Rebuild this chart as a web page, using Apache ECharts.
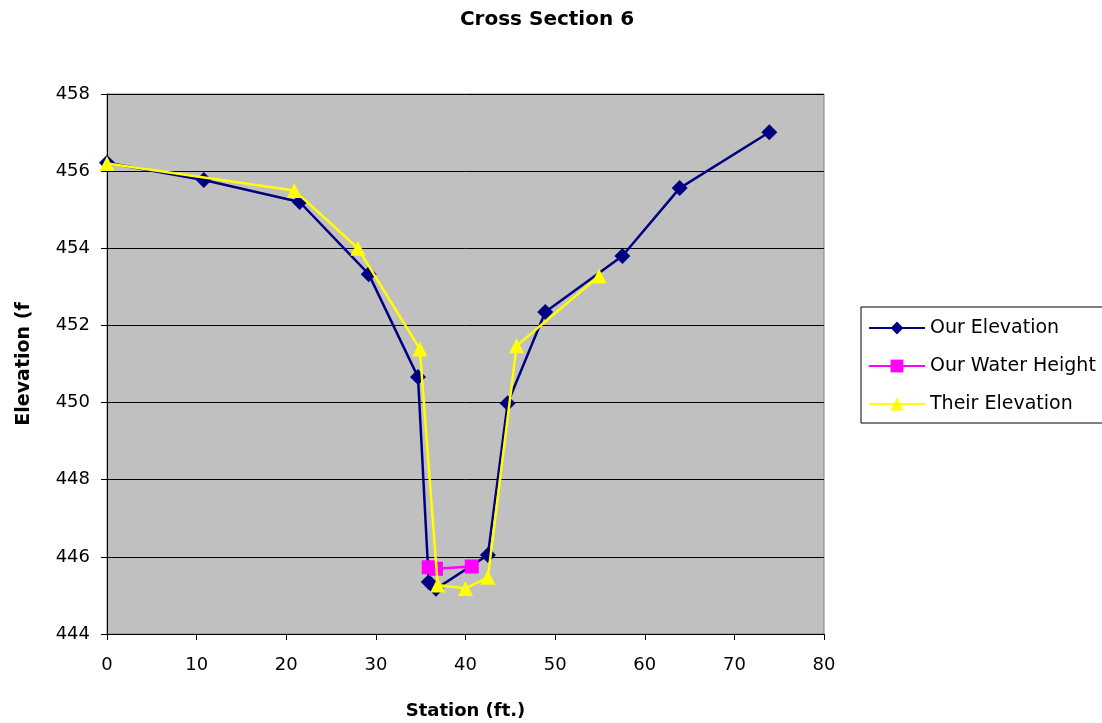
<!DOCTYPE html>
<html><head><meta charset="utf-8">
<script src="https://cdn.jsdelivr.net/npm/echarts@6/dist/echarts.min.js"></script>
<style>html,body{margin:0;padding:0;background:#fff}#c{width:1102px;height:723px}</style>
</head><body><div id="c"></div>
<script>
const ourElevation = [[0,456.22],[10.8,455.77],[21.5,455.2],[29.2,453.33],[34.7,450.66],[35.9,445.35],[36.7,445.17],[42.5,446.05],[44.7,449.98],[48.9,452.35],[57.5,453.8],[63.9,455.56],[73.9,457.01]];
const ourWaterHeight = [[35.9,445.73],[36.7,445.69],[40.7,445.75]];
const theirElevation = [[0,456.2],[20.9,455.5],[28.0,454.0],[34.9,451.39],[36.9,445.27],[40.0,445.18],[42.5,445.47],[45.7,451.47],[54.9,453.28]];
const seriesNames = ['Our Elevation','Our Water Height','Their Elevation'];
const xTicks = {min:0,max:80,interval:10};
const yTicks = {min:444,max:458,interval:2};

const chart = echarts.init(document.getElementById('c'), null, {renderer:'canvas'});
const font = 'DejaVu Sans, sans-serif';
chart.setOption({
  animation:false,
  textStyle:{fontFamily:font,color:'#000'},
  title:{text:'Cross Section 6',left:542,top:5,textAlign:'center',
    textStyle:{fontFamily:font,fontSize:20,fontWeight:'bold',color:'#000'}},
  grid:{left:107,right:278,top:94,bottom:89,outerBoundsMode:'none',containLabel:false,
    show:true,backgroundColor:'#C0C0C0',borderColor:'#808080',borderWidth:1},
  legend:{orient:'vertical',left:861,top:307,
    data:seriesNames,itemWidth:56,itemHeight:16,itemGap:18,
    padding:[11,30,9,7],borderColor:'#000',borderWidth:1,backgroundColor:'#fff',
    textStyle:{fontFamily:font,fontSize:19,lineHeight:20,color:'#000',padding:[0,0,0,0]}},
  xAxis:{type:'value',min:xTicks.min,max:xTicks.max,interval:xTicks.interval,
    name:'Station (ft.)',nameLocation:'middle',nameGap:68,
    nameTextStyle:{fontFamily:font,fontSize:18,fontWeight:'bold',color:'#000'},
    axisLine:{lineStyle:{color:'#000',width:1}},axisTick:{show:true,length:6,lineStyle:{color:'#000'}},
    axisLabel:{fontSize:18,color:'#000',margin:22},splitLine:{show:false}},
  yAxis:{type:'value',min:yTicks.min,max:yTicks.max,interval:yTicks.interval,
    name:'Elevation (f',nameLocation:'middle',nameGap:73,
    nameTextStyle:{fontFamily:font,fontSize:19,fontWeight:'bold',color:'#000'},
    axisLine:{show:true,lineStyle:{color:'#000',width:1}},axisTick:{show:true,length:6,lineStyle:{color:'#000'}},
    axisLabel:{fontSize:18,color:'#000',margin:17},
    splitLine:{show:true,lineStyle:{color:'#000',width:1}}},
  series:[
    {name:seriesNames[0],type:'line',data:ourElevation,symbol:'diamond',symbolSize:16,
      lineStyle:{color:'#000080',width:2.5},itemStyle:{color:'#000080'},z:3},
    {name:seriesNames[1],type:'line',data:ourWaterHeight,symbol:'rect',symbolSize:14,
      lineStyle:{color:'#FF00FF',width:2.5},itemStyle:{color:'#FF00FF'},z:4},
    {name:seriesNames[2],type:'line',data:theirElevation,symbol:'triangle',symbolSize:15,
      lineStyle:{color:'#FFFF00',width:2.5},itemStyle:{color:'#FFFF00'},z:5}
  ]
});
</script></body></html>
